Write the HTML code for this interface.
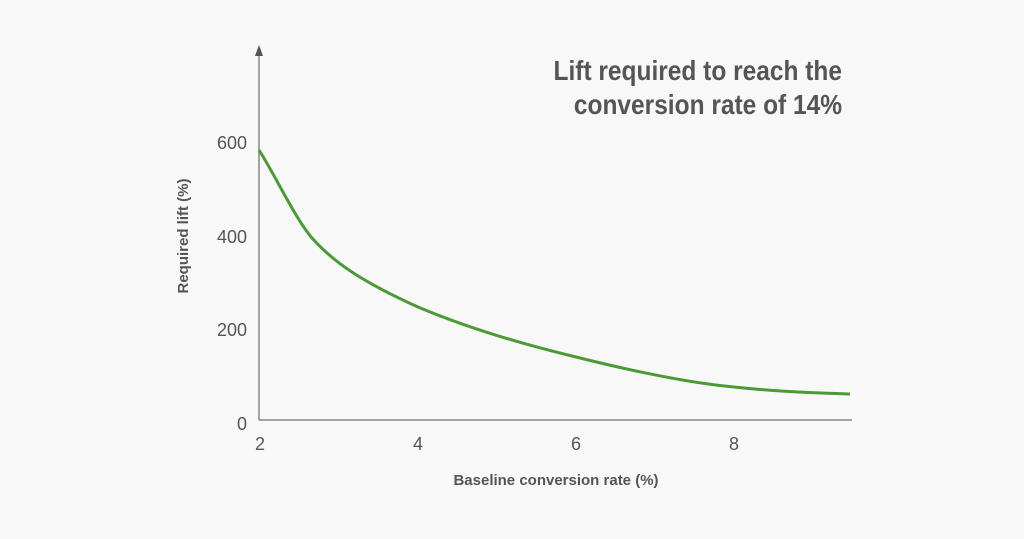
<!DOCTYPE html>
<html><head><meta charset="utf-8"><style>
html,body{margin:0;padding:0;background:#f8f8f8;}
svg{display:block;}
</style></head><body>
<svg width="1024" height="539" viewBox="0 0 1024 539" xmlns="http://www.w3.org/2000/svg">
<rect width="1024" height="539" fill="#f8f8f8"/>
<g font-family="Liberation Sans, sans-serif" fill="#555">
<text x="842" y="80" font-size="28" font-weight="bold" text-anchor="end" transform="translate(842 0) scale(0.875 1) translate(-842 0)">Lift required to reach the</text>
<text x="842" y="114" font-size="28" font-weight="bold" text-anchor="end" transform="translate(842 0) scale(0.875 1) translate(-842 0)">conversion rate of 14%</text>
<g font-size="18" text-anchor="end">
<text x="247" y="149">600</text>
<text x="247" y="243">400</text>
<text x="247" y="336">200</text>
<text x="247" y="430">0</text>
</g>
<g font-size="18" text-anchor="middle">
<text x="260" y="450">2</text>
<text x="418" y="450">4</text>
<text x="576" y="450">6</text>
<text x="734" y="450">8</text>
</g>
<text x="556" y="485" font-size="15" font-weight="bold" text-anchor="middle">Baseline conversion rate (%)</text>
<text transform="translate(188 236) rotate(-90)" font-size="15" font-weight="bold" text-anchor="middle">Required lift (%)</text>
</g>
<line x1="259" y1="52" x2="259" y2="420" stroke="#888" stroke-width="1.5"/>
<polygon points="255,56 263,56 259,45" fill="#555"/>
<line x1="259" y1="420" x2="852" y2="420" stroke="#888" stroke-width="1.5"/>
<path d="M259,150 C275,175 295,218 312,238 C335,264 365,283 418,307 C470,329 530,346 576,357 C640,373 690,383 734,387 C780,392 820,393 850,394" fill="none" stroke="#4a9a35" stroke-width="3"/>
</svg>
</body></html>
